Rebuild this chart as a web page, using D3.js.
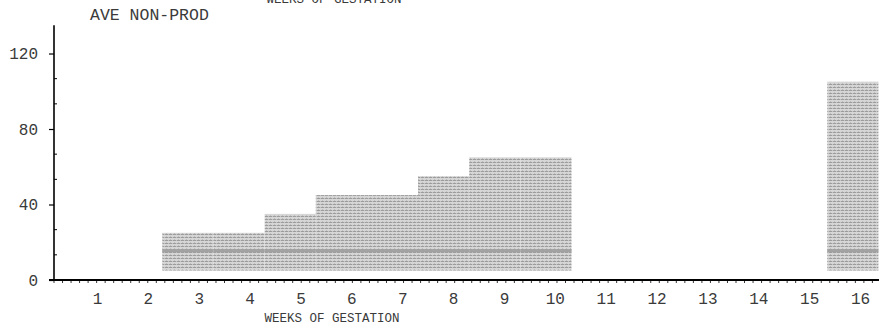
<!DOCTYPE html>
<html>
<head>
<meta charset="utf-8">
<script src="https://cdn.jsdelivr.net/npm/d3@7"></script>
<style>
  html, body { margin: 0; padding: 0; background: #fff; }
  svg { display: block; }
  text { font-family: "Liberation Mono", "Courier New", monospace; fill: #3a3a3a; }
</style>
</head>
<body>
<svg id="chart" width="879" height="326"></svg>
<script>
// ---- data ----
const weeks = [1, 2, 3, 4, 5, 6, 7, 8, 9, 10, 11, 12, 13, 14, 15, 16];
const barWeeks = [3, 4, 5, 6, 7, 8, 9, 10, 16];
const barLow   = [5, 5, 5, 5, 5, 5, 5, 5, 5];
const barHigh  = [25, 25, 35, 45, 45, 55, 65, 65, 105];
const barMid   = [15.5, 15.5, 15.5, 15.5, 15.5, 15.5, 15.5, 15.5, 15.5];
const yTicks = [0, 40, 80, 120];
const yMinor = [13.33, 26.67, 53.33, 66.67, 93.33, 106.67];
const yLabel = "AVE NON-PROD";
const xLabel = "WEEKS OF GESTATION";

const svg = d3.select("#chart");

// ---- scales ----
const y = d3.scaleLinear().domain([0, 135]).range([280, 25.2]);
const xBand = d3.scaleBand().domain(weeks).range([60, 878.4]).padding(0);
const xTick = d3.scalePoint().domain(weeks).range([97.5, 860.5]);

// ---- pattern ----
const defs = svg.append("defs");
const pat = defs.append("pattern").attr("id", "hatch")
  .attr("patternUnits", "userSpaceOnUse").attr("width", 4).attr("height", 3);
pat.append("rect").attr("width", 4).attr("height", 3).attr("fill", "#d6d6d6");
pat.append("rect").attr("y", 0).attr("width", 4).attr("height", 1).attr("fill", "#9c9c9c");
pat.append("rect").attr("x", 0).attr("y", 0).attr("width", 1).attr("height", 1).attr("fill", "#c4c4c4");
pat.append("rect").attr("x", 2).attr("y", 2).attr("width", 1).attr("height", 1).attr("fill", "#bdbdbd");

// ---- bars ----
const bars = barWeeks.map((w, i) => ({ w, lo: barLow[i], hi: barHigh[i], mid: barMid[i] }));
svg.append("g").selectAll("rect").data(bars).join("rect")
  .attr("x", d => xBand(d.w))
  .attr("width", xBand.bandwidth())
  .attr("y", d => y(d.hi))
  .attr("height", d => y(d.lo) - y(d.hi))
  .attr("fill", "url(#hatch)");
svg.append("g").selectAll("rect").data(bars).join("rect")
  .attr("x", d => xBand(d.w))
  .attr("width", xBand.bandwidth())
  .attr("y", d => y(d.mid + 0.8))
  .attr("height", d => y(d.mid - 0.8) - y(d.mid + 0.8))
  .attr("fill", "#a2a2a2");

// ---- y axis ----
const yAxis = svg.append("g").attr("transform", "translate(54,0)")
  .call(d3.axisLeft(y).tickValues(yTicks).tickSize(5).tickPadding(11));
yAxis.select(".domain").attr("d", `M0,${y(135)}V${y(0)}`).attr("stroke", "#000").attr("stroke-width", 1.6);
yAxis.selectAll(".tick line").attr("stroke", "#000").attr("stroke-width", 1.2);
yAxis.selectAll(".tick text").attr("font-size", 16).attr("fill", "#3a3a3a")
  .attr("font-family", "Liberation Mono");
svg.append("g").selectAll("line").data(yMinor).join("line")
  .attr("x1", 54).attr("x2", 57).attr("y1", d => y(d)).attr("y2", d => y(d))
  .attr("stroke", "#000").attr("stroke-width", 1);

// ---- x axis ----
svg.append("line").attr("x1", 49).attr("x2", 879).attr("y1", y(0)).attr("y2", y(0))
  .attr("stroke", "#000").attr("stroke-width", 2);
const minorX = d3.range(0, 16 * 6 + 1).map(k => 54 + k * xBand.step() / 6).filter(v => v <= 879);
svg.append("g").selectAll("line").data(minorX).join("line")
  .attr("x1", d => d).attr("x2", d => d).attr("y1", y(0)).attr("y2", y(0) + 3)
  .attr("stroke", "#000").attr("stroke-width", 0.8);
svg.append("g").selectAll("text").data(weeks).join("text")
  .attr("x", d => xTick(d)).attr("y", 303.5)
  .attr("text-anchor", "middle").attr("font-size", 16)
  .text(d => d);

// ---- titles ----
svg.append("text").attr("x", 332).attr("y", 322).attr("text-anchor", "middle")
  .attr("font-size", 12.5).text(xLabel);
svg.append("text").attr("x", 334).attr("y", 2.5).attr("text-anchor", "middle")
  .attr("font-size", 12.5).text(xLabel);
svg.append("text").attr("x", 90).attr("y", 20).attr("text-anchor", "start")
  .attr("font-size", 16.5).text(yLabel);
</script>
</body>
</html>
